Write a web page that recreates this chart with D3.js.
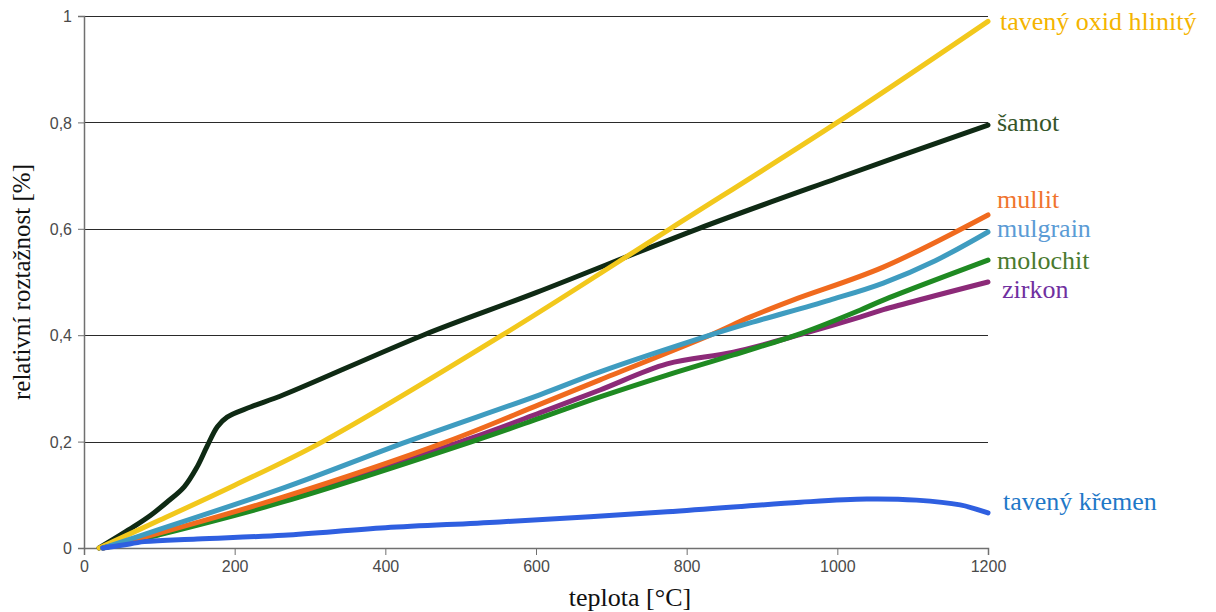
<!DOCTYPE html>
<html>
<head>
<meta charset="utf-8">
<script src="https://cdn.jsdelivr.net/npm/d3@7"></script>
<style>
  body { margin: 0; background: #fff; }
  svg { display: block; }
</style>
</head>
<body>
<script>
// Series data: [teplota °C, relativní roztažnost %]
const samot = [[20, 0], [66, 0.04], [89, 0.062], [110, 0.086], [133, 0.115], [150, 0.152], [163, 0.19],
  [177, 0.228], [190, 0.246], [221, 0.265], [265, 0.288], [450, 0.4], [600, 0.48], [815, 0.6],
  [1000, 0.695], [1200, 0.795]];
const oxidHlinity = [[20, 0], [100, 0.052], [200, 0.118], [317, 0.2], [555, 0.4],
  [778, 0.6], [1000, 0.8], [1200, 0.99]];
const mullit = [[25, 0], [100, 0.028], [265, 0.096], [482, 0.2], [605, 0.27], [685, 0.316],
  [831, 0.4], [884, 0.434], [941, 0.466], [1061, 0.528], [1200, 0.626]];
const mulgrain = [[25, 0], [100, 0.035], [265, 0.113], [429, 0.2], [605, 0.288], [685, 0.331],
  [831, 0.4], [884, 0.423], [990, 0.466], [1061, 0.498], [1130, 0.54], [1200, 0.594]];
const molochit = [[25, 0], [100, 0.025], [265, 0.087], [515, 0.2], [605, 0.244], [685, 0.284],
  [774, 0.325], [862, 0.363], [955, 0.405], [1030, 0.447], [1061, 0.466], [1200, 0.541]];
const zirkon = [[25, 0], [100, 0.026], [265, 0.09], [515, 0.207], [605, 0.254], [685, 0.297],
  [774, 0.346], [862, 0.368], [955, 0.403], [1030, 0.434], [1061, 0.448], [1200, 0.5]];
const kremen = [[25, 0], [50, 0.005], [80, 0.012], [150, 0.017], [265, 0.024], [400, 0.038],
  [552, 0.049], [774, 0.068], [951, 0.086], [1039, 0.092], [1105, 0.09], [1163, 0.081], [1200, 0.066]];

const xTicks = [0, 200, 400, 600, 800, 1000, 1200];
const yTicks = [0, 0.2, 0.4, 0.6, 0.8, 1];
const yTickLabels = ['0', '0,2', '0,4', '0,6', '0,8', '1'];

// label text and the value (y) where each label sits at the right end
const seriesNames = ['šamot', 'tavený oxid hlinitý', 'zirkon', 'molochit', 'mullit', 'mulgrain', 'tavený křemen'];
const labelValues = [0.8, 0.99, 0.485, 0.54, 0.655, 0.6, 0.088];

const series = [
  { name: seriesNames[0], data: samot, color: '#0f2a14', label: '#35552a', dx: 9 },
  { name: seriesNames[1], data: oxidHlinity, color: '#f2c81c', label: '#f4b400', dx: 12 },
  { name: seriesNames[2], data: zirkon, color: '#8c2a78', label: '#7030a0', dx: 14 },
  { name: seriesNames[3], data: molochit, color: '#1f8a22', label: '#4a7a2e', dx: 9 },
  { name: seriesNames[4], data: mullit, color: '#f06a1e', label: '#f0742e', dx: 9 },
  { name: seriesNames[5], data: mulgrain, color: '#3f9cc0', label: '#5b9bd5', dx: 9 },
  { name: seriesNames[6], data: kremen, color: '#2f5fe0', label: '#1f78c8', dx: 15 }
];
series.forEach((s, i) => s.labelY = labelValues[i]);

const width = 1216;
const height = 612;

const svg = d3.select('body')
  .append('svg')
  .attr('width', width)
  .attr('height', height);

const x = d3.scaleLinear().domain([0, 1200]).range([84, 988]);
const y = d3.scaleLinear().domain([0, 1]).range([548, 16]);

// horizontal gridlines
svg.append('g')
  .selectAll('line')
  .data(yTicks.filter(d => d > 0))
  .enter().append('line')
  .attr('x1', x(0))
  .attr('x2', x(1200))
  .attr('y1', d => Math.round(y(d)) + 0.5)
  .attr('y2', d => Math.round(y(d)) + 0.5)
  .attr('stroke', '#2a2a2a')
  .attr('stroke-width', 1);

// y axis
const yAxis = svg.append('g')
  .attr('transform', `translate(${x(0)},0)`)
  .call(d3.axisLeft(y).tickValues(yTicks).tickSize(6).tickPadding(6)
    .tickFormat((d, i) => yTickLabels[i]));

// x axis
const xAxis = svg.append('g')
  .attr('transform', `translate(0,${y(0)})`)
  .call(d3.axisBottom(x).tickValues(xTicks).tickSize(7).tickPadding(6)
    .tickFormat(d3.format('d')));

[yAxis, xAxis].forEach(a => {
  a.select('.domain').attr('stroke', '#707070').attr('stroke-width', 1.5);
  a.selectAll('.tick line').attr('stroke', '#707070');
  a.selectAll('.tick text')
    .attr('fill', '#4a4a4a')
    .style('font-family', '"Liberation Sans", Arial, sans-serif')
    .style('font-size', '16px');
});
yAxis.selectAll('.tick text').attr('dy', '0.35em');

// lines
const line = d3.line()
  .x(d => x(d[0]))
  .y(d => y(d[1]))
  .curve(d3.curveCatmullRom.alpha(0.5));

svg.append('g')
  .selectAll('path')
  .data(series)
  .enter().append('path')
  .attr('d', d => line(d.data))
  .attr('fill', 'none')
  .attr('stroke', d => d.color)
  .attr('stroke-width', 5)
  .attr('stroke-linecap', 'round')
  .attr('stroke-linejoin', 'round');

// series labels at the right end
svg.append('g')
  .selectAll('text')
  .data(series)
  .enter().append('text')
  .attr('x', d => x(1200) + d.dx)
  .attr('y', d => y(d.labelY))
  .attr('dy', '0.32em')
  .attr('fill', d => d.label)
  .style('font-family', '"Liberation Serif", "Times New Roman", serif')
  .style('font-size', '26px')
  .text(d => d.name);

// axis titles
svg.append('text')
  .attr('x', 630)
  .attr('y', 606)
  .attr('text-anchor', 'middle')
  .style('font-family', '"Liberation Serif", "Times New Roman", serif')
  .style('font-size', '26px')
  .attr('fill', '#111')
  .text('teplota [°C]');

svg.append('text')
  .attr('transform', `translate(30,${y(0.5)}) rotate(-90)`)
  .attr('text-anchor', 'middle')
  .style('font-family', '"Liberation Serif", "Times New Roman", serif')
  .style('font-size', '25px')
  .attr('fill', '#111')
  .text('relativní roztažnost [%]');
</script>
</body>
</html>
